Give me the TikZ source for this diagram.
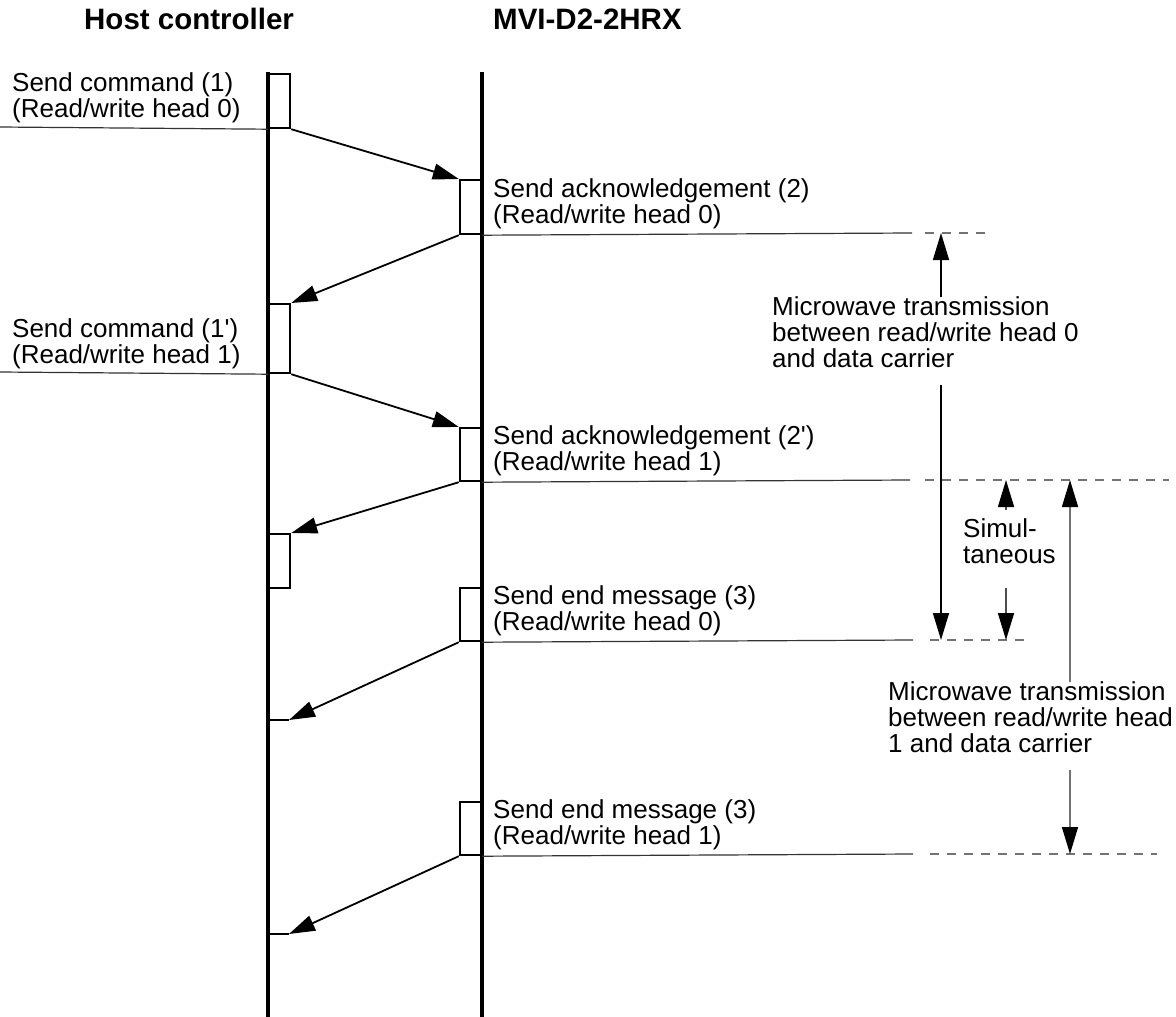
\documentclass[tikz,border=0pt]{standalone}
\usepackage{fontspec}
\setmainfont{Liberation Sans}
\usetikzlibrary{arrows.meta}
\begin{document}
\begin{tikzpicture}[x=1pt,y=-1pt,
  life/.style={line width=3.5pt},
  actbox/.style={draw, line width=2.2pt, inner sep=0pt, minimum width=21pt},
  msg/.style={line width=1.8pt, -{Triangle[length=26pt,width=16pt,color=black]}},
  lbl/.style={inner sep=0pt, anchor=base west, font=\fontsize{26}{26}\selectfont},
  hdr/.style={inner sep=0pt, anchor=base west, font=\fontsize{29.5}{30}\selectfont\bfseries},
  thinln/.style={line width=1.2pt, draw=black!80},
  dashln/.style={line width=1.3pt, draw=black!55, dash pattern=on 9pt off 8pt},
  vtip/.style={line width=1.5pt, -{Triangle[length=27pt,width=16pt,color=black]}},
]
\useasboundingbox (0,0) rectangle (1176,1017);

% headers
\node[hdr] (hhost) at (84,29) {Host controller};
\node[hdr] (hmvi) at (493,29) {MVI-D2-2HRX};

% lifelines
\coordinate (ltop) at (268,72); \coordinate (lbot) at (268,1017);
\coordinate (rtop) at (482,72); \coordinate (rbot) at (482,1017);
\draw[life] (ltop) -- (lbot);
\draw[life] (rtop) -- (rbot);

% activation boxes
\node[actbox, minimum height=54pt, anchor=north west] (b1) at (268,73) {};
\node[actbox, minimum height=54pt, anchor=north east] (b2) at (482,179) {};
\node[actbox, minimum height=69pt, anchor=north west] (b3) at (268,303) {};
\node[actbox, minimum height=53pt, anchor=north east] (b4) at (482,427) {};
\node[actbox, minimum height=54pt, anchor=north west] (b5) at (268,533) {};
\node[actbox, minimum height=53pt, anchor=north east] (b6) at (482,587) {};
\node[actbox, minimum height=53pt, anchor=north east] (b7) at (482,801) {};
\coordinate (e5l) at (268,720); \coordinate (e5) at (289,720);
\coordinate (e6l) at (268,934); \coordinate (e6) at (289,934);
\draw[line width=2.2pt] (e5l) -- (e5);
\draw[line width=2.2pt] (e6l) -- (e6);

% messages
\draw[msg] (b1.south east) -- (b2.north west);
\draw[msg] (b2.south west) -- (b3.north east);
\draw[msg] (b3.south east) -- (b4.north west);
\draw[msg] (b4.south west) -- (b5.north east);
\draw[msg] (b6.south west) -- (e5);
\draw[msg] (b7.south west) -- (e6);

% left reference lines
\coordinate (l1) at (0,127); \coordinate (l2) at (0,372);
\draw[thinln] (l1) -- (b1.south west);
\draw[thinln] (l2) -- (b3.south west);

% right reference lines
\coordinate (s1) at (912,233);  \coordinate (d1a) at (925,233); \coordinate (d1b) at (986,233);
\coordinate (s2) at (910,480);  \coordinate (d2a) at (925,480); \coordinate (d2b) at (1169,480);
\coordinate (s3) at (913,640);  \coordinate (d3a) at (930,640); \coordinate (d3b) at (1029,640);
\coordinate (s4) at (913,854);  \coordinate (d4a) at (930,854); \coordinate (d4b) at (1157,854);
\draw[thinln] (b2.south east) -- (s1); \draw[dashln] (d1a) -- (d1b);
\draw[thinln] (b4.south east) -- (s2); \draw[dashln] (d2a) -- (d2b);
\draw[thinln] (b6.south east) -- (s3); \draw[dashln] (d3a) -- (d3b);
\draw[thinln] (b7.south east) -- (s4); \draw[dashln] (d4a) -- (d4b);

% labels
\node[lbl] (t1) at (12,91) {\vtop{\hbox{Send command (1)}\hbox{(Read/write head 0)}}};
\node[lbl] (t2) at (493,197) {\vtop{\hbox{Send acknowledgement (2)}\hbox{(Read/write head 0)}}};
\node[lbl] (t3) at (12,337) {\vtop{\hbox{Send command (1\textquotesingle)}\hbox{(Read/write head 1)}}};
\node[lbl] (t4) at (493,444) {\vtop{\hbox{Send acknowledgement (2\textquotesingle)}\hbox{(Read/write head 1)}}};
\node[lbl] (t5) at (493,604) {\vtop{\hbox{Send end message (3)}\hbox{(Read/write head 0)}}};
\node[lbl] (t6) at (493,818) {\vtop{\hbox{Send end message (3)}\hbox{(Read/write head 1)}}};

\node[lbl] (m1) at (772,315) {\vtop{\hbox{Microwave transmission}\hbox{between read/write head 0}\hbox{and data carrier}}};
\node[lbl] (sim) at (963,537) {\vtop{\hbox{Simul-}\hbox{taneous}}};
\node[lbl] (m2) at (888,700) {\vtop{\hbox{Microwave transmission}\hbox{between read/write head}\hbox{1 and data carrier}}};

% vertical dimension arrows
\coordinate (a1u) at (941,297); \coordinate (a1t) at (941,233);
\coordinate (a1d) at (941,385); \coordinate (a1b) at (941,640);
\draw[vtip] (a1u) -- (a1t);
\draw[vtip] (a1d) -- (a1b);
\coordinate (su) at (1006,510); \coordinate (st) at (1006,480);
\coordinate (sd) at (1006,588); \coordinate (sb) at (1006,640);
\draw[vtip, draw=black!70] (su) -- (st);
\draw[vtip, draw=black!70] (sd) -- (sb);
\coordinate (a2u) at (1070,682); \coordinate (a2t) at (1070,480);
\coordinate (a2d) at (1070,770); \coordinate (a2b) at (1070,854);
\draw[vtip, draw=black!55] (a2u) -- (a2t);
\draw[vtip, draw=black!55] (a2d) -- (a2b);
\end{tikzpicture}
\end{document}
